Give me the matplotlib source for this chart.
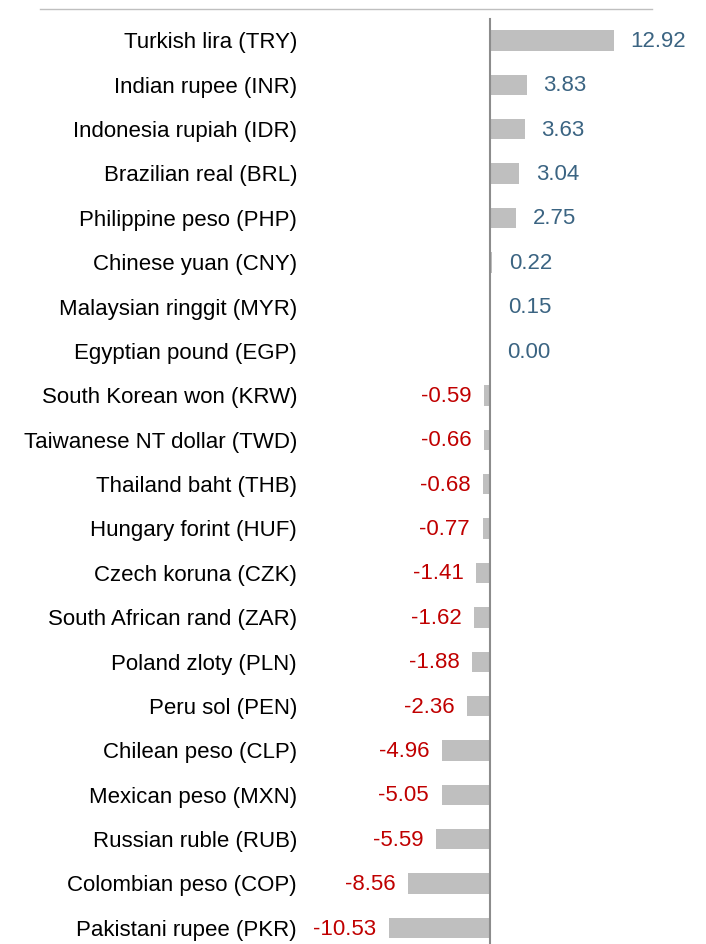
import matplotlib.pyplot as plt

plt.rcParams['font.family'] = ['Liberation Sans', 'DejaVu Sans']

currencies = [
    'Turkish lira (TRY)', 'Indian rupee (INR)', 'Indonesia rupiah (IDR)',
    'Brazilian real (BRL)', 'Philippine peso (PHP)', 'Chinese yuan (CNY)',
    'Malaysian ringgit (MYR)', 'Egyptian pound (EGP)', 'South Korean won (KRW)',
    'Taiwanese NT dollar (TWD)', 'Thailand baht (THB)', 'Hungary forint (HUF)',
    'Czech koruna (CZK)', 'South African rand (ZAR)', 'Poland zloty (PLN)',
    'Peru sol (PEN)', 'Chilean peso (CLP)', 'Mexican peso (MXN)',
    'Russian ruble (RUB)', 'Colombian peso (COP)', 'Pakistani rupee (PKR)',
]
changes = [12.92, 3.83, 3.63, 3.04, 2.75, 0.22, 0.15, 0.00, -0.59, -0.66,
           -0.68, -0.77, -1.41, -1.62, -1.88, -2.36, -4.96, -5.05, -5.59,
           -8.56, -10.53]

bar_color = '#bfbfbf'
pos_color = '#3b6482'
neg_color = '#c00000'

fig = plt.figure(figsize=(7.06, 9.45), dpi=100)
ax = fig.add_axes([40 / 706, 0, 612 / 706, 935.5 / 945])

# x scale: zero at 490 px, 9.6 px per unit
ax.set_xlim(-46.875, 16.875)
ax.set_ylim(20.36, -0.72)

ypos = list(range(len(currencies)))
pos_idx = [i for i, v in enumerate(changes) if v >= 0]
neg_idx = [i for i, v in enumerate(changes) if v < 0]

bars_pos = ax.barh([ypos[i] for i in pos_idx], [changes[i] for i in pos_idx],
                   height=0.46, color=bar_color)
bars_neg = ax.barh([ypos[i] for i in neg_idx], [changes[i] for i in neg_idx],
                   height=0.46, color=bar_color)

ax.bar_label(bars_pos, labels=[f'{changes[i]:.2f}' for i in pos_idx],
             padding=12, color=pos_color, fontsize=16)
ax.bar_label(bars_neg, labels=[f'{changes[i]:.2f}' for i in neg_idx],
             padding=9, color=neg_color, fontsize=16)

# category names, right aligned in a column left of the bars
for y, name in zip(ypos, currencies):
    ax.text(-20.1, y + 0.03, name, ha='right', va='center', fontsize=16,
            color='black')

ax.axvline(0, ymin=0, ymax=0.989, color='#8c8c8c', lw=1.5)

for side in ['left', 'right', 'bottom']:
    ax.spines[side].set_visible(False)
ax.spines['top'].set_color('#bfbfbf')
ax.spines['top'].set_linewidth(1.0)
ax.set_xticks([])
ax.set_yticks([])

fig.savefig('out.png', dpi=100)
